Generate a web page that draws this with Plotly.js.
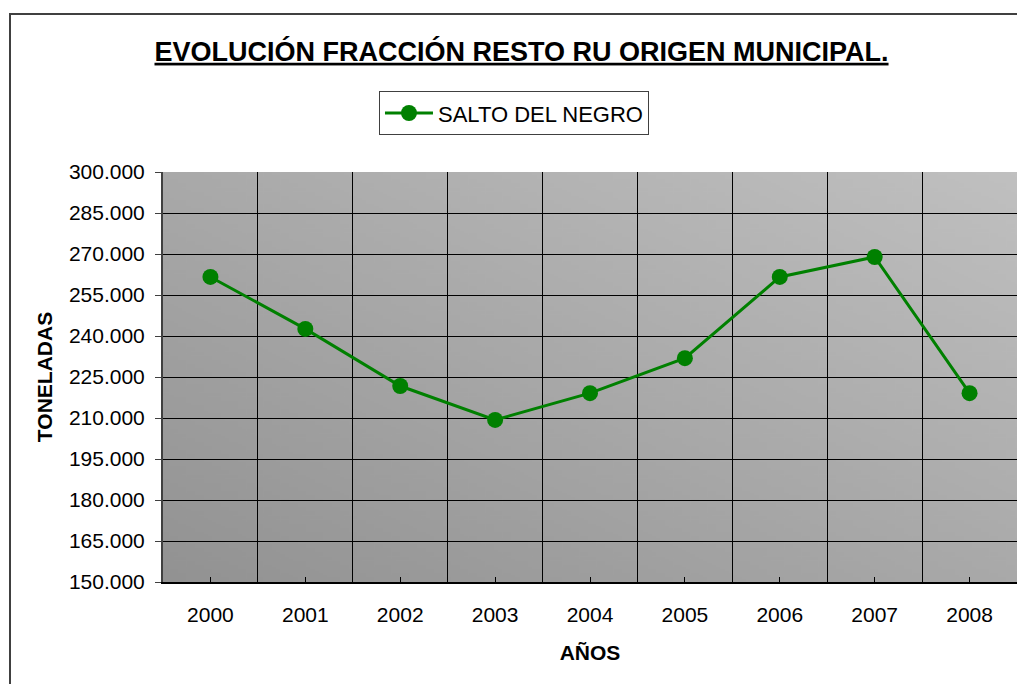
<!DOCTYPE html>
<html>
<head>
<meta charset="utf-8">
<script src="https://cdn.plot.ly/plotly-3.0.1.min.js"></script>
<style>
html,body{margin:0;padding:0;background:#fff;overflow:hidden;}
#chart{width:1017px;height:684px;}
#frame{position:absolute;left:9px;top:13px;width:2000px;height:2000px;border:2px solid #404040;pointer-events:none;box-sizing:border-box;}
</style>
</head>
<body>
<div id="chart"></div>
<div id="frame"></div>
<script>
var years = [2000, 2001, 2002, 2003, 2004, 2005, 2006, 2007, 2008];
var toneladas = [261600, 242600, 221700, 209300, 219100, 231900, 261600, 268900, 219100];
var seriesName = 'SALTO DEL NEGRO';
var titleText = 'EVOLUCIÓN FRACCIÓN RESTO RU ORIGEN MUNICIPAL.';
var xTitle = 'AÑOS';
var yTitle = 'TONELADAS';

var S = 200;
var cv = document.createElement('canvas');
cv.width = S; cv.height = S;
var ctx = cv.getContext('2d');
var g = ctx.createLinearGradient(0, S, S, 0);
g.addColorStop(0, '#929292');
g.addColorStop(1, '#c0c0c0');
ctx.fillStyle = g;
ctx.fillRect(0, 0, S, S);
var bg = cv.toDataURL('image/png');

var font = 'Arial, "Liberation Sans", sans-serif';

var trace = {
  x: years,
  y: toneladas,
  name: seriesName,
  type: 'scatter',
  mode: 'lines+markers',
  line: {color: '#008000', width: 3},
  marker: {color: '#008000', size: 16, symbol: 'circle'},
  showlegend: true
};

var layout = {
  width: 1017, height: 684,
  margin: {l: 163, r: 0, t: 172, b: 102, pad: 0},
  paper_bgcolor: 'rgba(0,0,0,0)',
  plot_bgcolor: 'rgba(0,0,0,0)',
  font: {family: font, size: 21, color: '#000'},
  separators: ',.',
  title: {
    text: '<b>' + titleText + '</b>',
    font: {family: font, size: 27, color: '#000', lineposition: 'under'},
    x: 0.5128, xref: 'container', xanchor: 'center',
    y: 0.925, yref: 'container', yanchor: 'middle'
  },
  showlegend: true,
  legend: {
    x: 0.2529, y: 1.197, xanchor: 'left', yanchor: 'top',
    bgcolor: '#fff', bordercolor: '#404040', borderwidth: 1,
    font: {family: font, size: 22, color: '#000'},
    itemwidth: 48
  },
  images: [{
    source: bg, xref: 'paper', yref: 'paper',
    x: 0, y: 1, sizex: 1, sizey: 1, sizing: 'stretch', layer: 'below'
  }],
  xaxis: {
    range: [1999.5, 2008.5],
    tickmode: 'array', tickvals: years, ticktext: years.map(String),
    ticks: 'inside', ticklen: 5, tickcolor: '#000', tickwidth: 1,
    showgrid: false, zeroline: false,
    showline: true, linecolor: '#000', linewidth: 2,
    ticklabelstandoff: 13,
    tickfont: {family: font, size: 21, color: '#000'},
    minor: {tick0: 1999.5, dtick: 1, showgrid: true, gridcolor: '#000', gridwidth: 1, ticks: ''},
    title: {text: '<b>' + xTitle + '</b>', font: {family: font, size: 21, color: '#000'}, standoff: 20}
  },
  yaxis: {
    range: [150000, 300000],
    tick0: 150000, dtick: 15000,
    tickformat: ',d',
    ticks: 'outside', ticklen: 6, tickcolor: '#404040', tickwidth: 1,
    showgrid: true, gridcolor: '#000', gridwidth: 1,
    zeroline: false,
    showline: true, linecolor: '#404040', linewidth: 2,
    ticklabelstandoff: 6,
    tickfont: {family: font, size: 21, color: '#000'},
    title: {text: '<b>' + yTitle + '</b>', font: {family: font, size: 21, color: '#000'}, standoff: 11}
  }
};

Plotly.newPlot('chart', [trace], layout, {displayModeBar: false, staticPlot: true});
</script>
</body>
</html>
